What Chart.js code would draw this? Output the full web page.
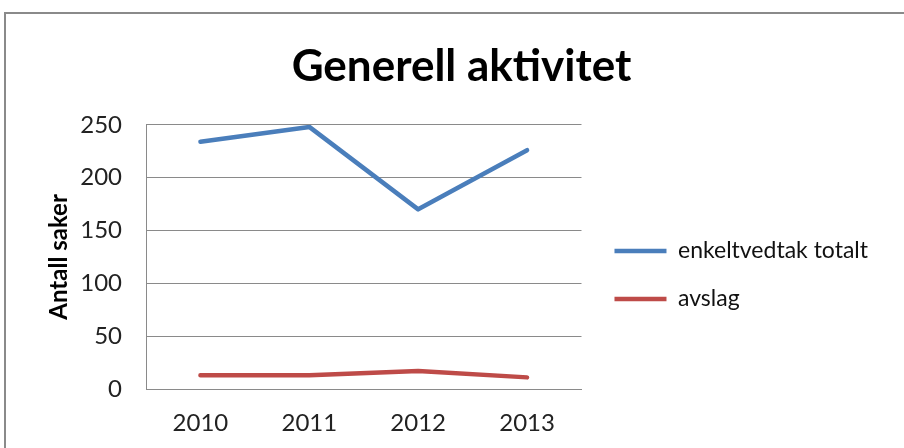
<!DOCTYPE html>
<html>
<head>
<meta charset="utf-8">
<script src="https://cdn.jsdelivr.net/npm/chart.js@4"></script>
<style>
  html, body { margin: 0; padding: 0; background: #fff; overflow: hidden; }
  body { width: 904px; height: 448px; position: relative; }
  #frame { position: absolute; left: 4px; top: 12px; width: 898px; height: 434px; border-left: 2px solid #8a8a8a; border-top: 2px solid #8a8a8a; }
  #myChart { position: absolute; left: 0; top: 0; }
</style>
</head>
<body>
<div id="frame"></div>
<canvas id="myChart" width="904" height="448"></canvas>
<script>
// Data
const years = ['2010', '2011', '2012', '2013'];
const totalt = [234, 248, 170, 226];
const avslag = [13, 13, 17, 11];
const yTicks = [0, 50, 100, 150, 200, 250];

const ctx = document.getElementById('myChart').getContext('2d');
const fontFam = 'Lato, "Open Sans", sans-serif';

const chartData = {
    labels: years,
    datasets: [{
        label: 'enkeltvedtak totalt',
        data: totalt,
        borderColor: '#4a7ebb',
        backgroundColor: '#4a7ebb',
        borderWidth: 4.5,
        pointRadius: 0,
        borderCapStyle: 'round',
        borderJoinStyle: 'round',
        tension: 0
    }, {
        label: 'avslag',
        data: avslag,
        borderColor: '#be4b48',
        backgroundColor: '#be4b48',
        borderWidth: 4.5,
        pointRadius: 0,
        borderCapStyle: 'round',
        borderJoinStyle: 'round',
        tension: 0
    }]
};

const myChart = new Chart(ctx, {
    type: 'line',
    data: chartData,
    options: {
        responsive: false,
        animation: false,
        layout: { padding: { top: 12, left: 45, right: 26, bottom: 8 } },
        plugins: {
            title: {
                display: true,
                text: 'Generell aktivitet',
                color: '#000',
                font: { family: fontFam, size: 44, weight: 'bold' },
                padding: { top: 28, bottom: 32 }
            },
            legend: {
                position: 'right',
                maxWidth: 320,
                title: { display: true, text: ' ', font: { size: 10 }, padding: 43 },
                labels: {
                    usePointStyle: true,
                    pointStyle: 'line',
                    pointStyleWidth: 52,
                    padding: 25,
                    color: '#111',
                    font: { family: fontFam, size: 23 }
                }
            },
            tooltip: { enabled: false }
        },
        scales: {
            x: {
                offset: true,
                grid: { display: false, drawTicks: false },
                border: { display: true, color: '#8a8a8a', width: 1 },
                ticks: { color: '#222', padding: 20, font: { family: fontFam, size: 24 } },
                afterFit: (scale) => { scale.height = 51; }
            },
            y: {
                min: 0,
                max: 250,
                afterBuildTicks: (scale) => { scale.ticks = yTicks.map(v => ({ value: v })); },
                grid: { color: '#8a8a8a', lineWidth: 1, drawTicks: false },
                border: { display: true, color: '#8a8a8a', width: 1 },
                ticks: { color: '#222', padding: 24, font: { family: fontFam, size: 24 } },
                title: {
                    display: true,
                    text: 'Antall saker',
                    color: '#000',
                    font: { family: fontFam, size: 24, weight: 'bold' },
                    padding: { top: 0, bottom: 6 }
                },
                afterFit: (scale) => { scale.width = 101; }
            },
            yr: {
                position: 'right',
                grid: { display: false },
                border: { display: false },
                ticks: { display: false },
                afterFit: (scale) => { scale.width = 8; }
            }
        }
    }
});
</script>
</body>
</html>
